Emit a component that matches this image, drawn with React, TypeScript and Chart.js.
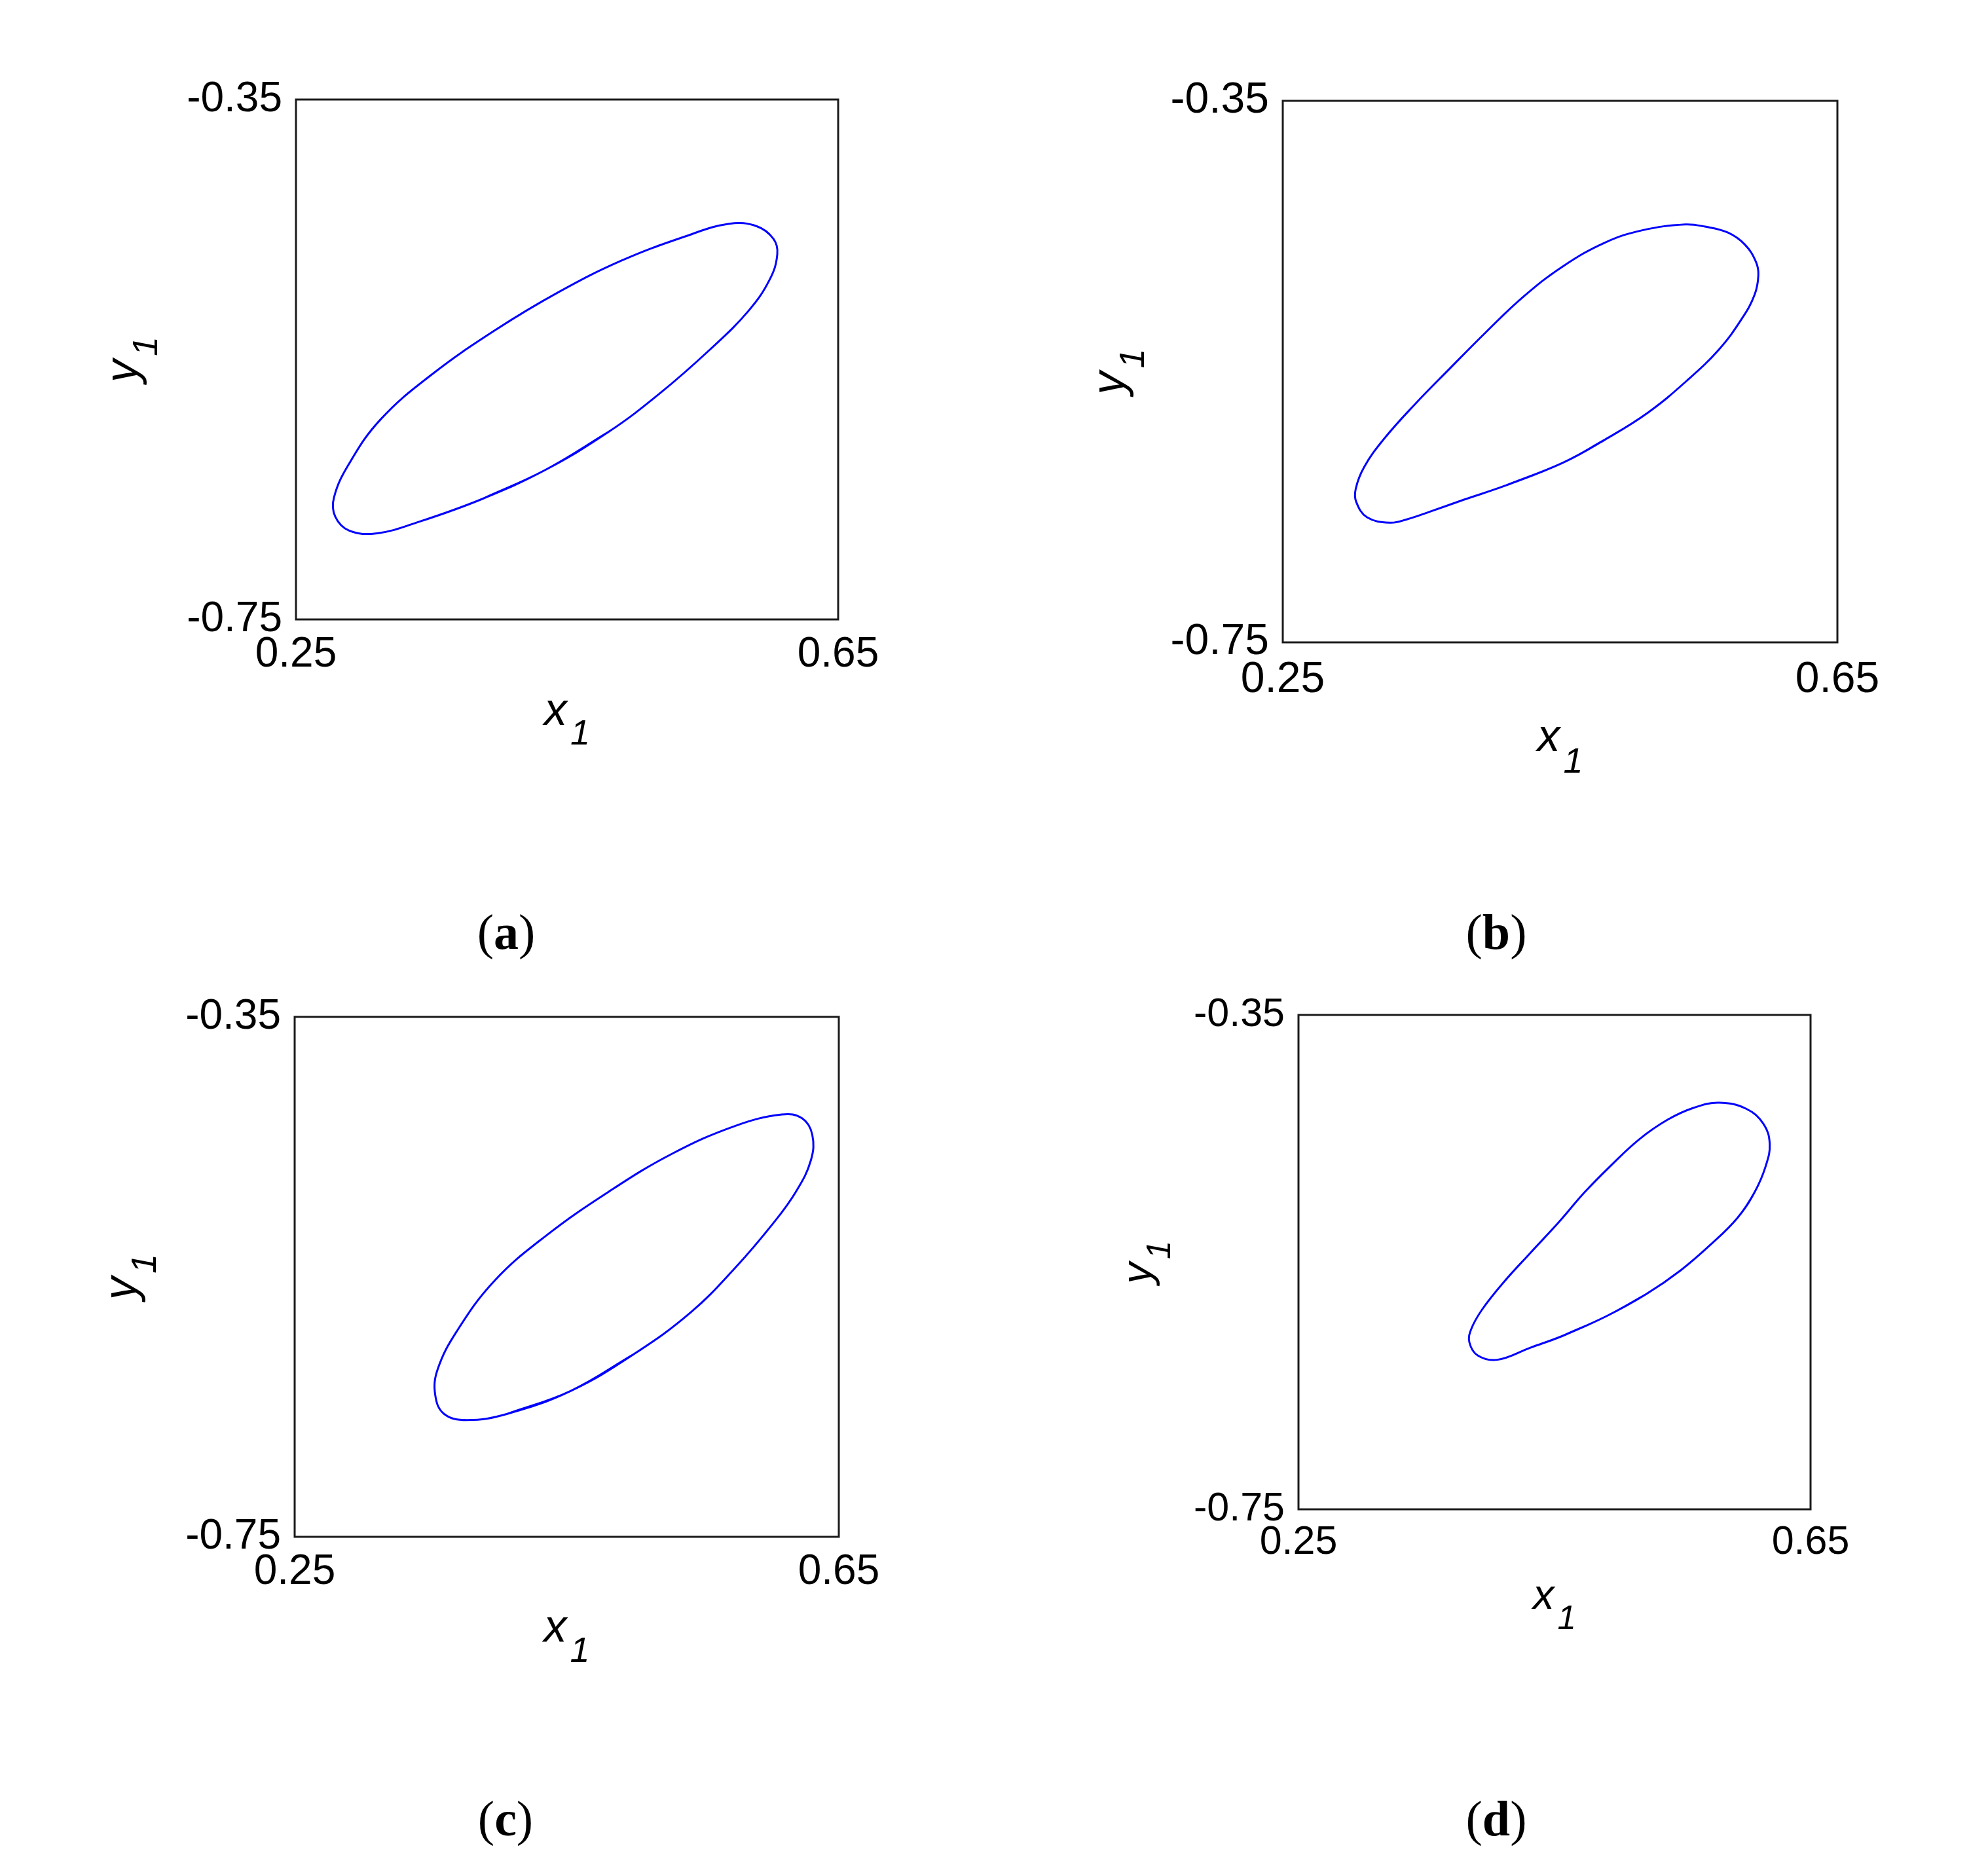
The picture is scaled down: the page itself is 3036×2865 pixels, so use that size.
import React, { useEffect, useRef } from 'react';
import { Chart, registerables } from 'chart.js';

Chart.register(...registerables);

// ---- axis ticks / labels ----
const X_TICKS = [0.25, 0.65];
const Y_TICKS = [-0.75, -0.35];
const X_TICK_LABELS = ['0.25', '0.65'];
const Y_TICK_LABELS = ['-0.75', '-0.35'];
const X_LABEL = ['x', '1'];
const Y_LABEL = ['y', '1'];
const CAPTIONS = ['a', 'b', 'c', 'd'];

// ---- panel (a) closed orbit (last point repeats the first) ----
const A_X = [0.4341, 0.3874, 0.3407, 0.3098, 0.2893, 0.2790, 0.2780, 0.2893, 0.3126, 0.3500, 0.3967, 0.4435, 0.4902, 0.5369, 0.5696, 0.5902, 0.6023, 0.6051, 0.5995, 0.5836, 0.5556, 0.5182, 0.4808, 0.4341];
const A_Y = [-0.6349, -0.6573, -0.6749, -0.6837, -0.6817, -0.6710, -0.6563, -0.6300, -0.5959, -0.5617, -0.5276, -0.4983, -0.4739, -0.4554, -0.4456, -0.4476, -0.4573, -0.4690, -0.4885, -0.5129, -0.5422, -0.5763, -0.6056, -0.6349];

// ---- panel (b) closed orbit ----
const B_X = [0.4521, 0.4111, 0.3804, 0.3558, 0.3394, 0.3272, 0.3108, 0.3030, 0.3026, 0.3087, 0.3231, 0.3456, 0.3702, 0.3968, 0.4234, 0.4521, 0.4828, 0.5094, 0.5402, 0.5545, 0.5708, 0.5832, 0.5913, 0.5930, 0.5903, 0.5811, 0.5647, 0.5422, 0.5135, 0.4828, 0.4521];
const B_Y = [-0.6173, -0.6340, -0.6447, -0.6536, -0.6592, -0.6616, -0.6576, -0.6463, -0.6367, -0.6205, -0.5996, -0.5738, -0.5480, -0.5206, -0.4948, -0.4722, -0.4545, -0.4456, -0.4413, -0.4429, -0.4472, -0.4561, -0.4690, -0.4787, -0.4932, -0.5109, -0.5335, -0.5560, -0.5802, -0.6000, -0.6173];

// ---- panel (c) closed orbit ----
const C_X = [0.4528, 0.4063, 0.3765, 0.3598, 0.3533, 0.3551, 0.3691, 0.3970, 0.4342, 0.4807, 0.5272, 0.5737, 0.6081, 0.6230, 0.6305, 0.6295, 0.6184, 0.6016, 0.5737, 0.5412, 0.4993, 0.4528];
const C_Y = [-0.6378, -0.6554, -0.6602, -0.6554, -0.6407, -0.6212, -0.5920, -0.5529, -0.5188, -0.4846, -0.4554, -0.4339, -0.4251, -0.4280, -0.4407, -0.4602, -0.4846, -0.5090, -0.5432, -0.5773, -0.6095, -0.6378];

// ---- panel (d) closed orbit ----
const D_X = [0.4906, 0.4565, 0.4309, 0.4053, 0.3900, 0.3835, 0.3849, 0.3934, 0.4105, 0.4309, 0.4531, 0.4735, 0.4940, 0.5161, 0.5383, 0.5588, 0.5784, 0.5997, 0.6133, 0.6181, 0.6151, 0.6065, 0.5929, 0.5724, 0.5486, 0.5213, 0.4906];
const D_Y = [-0.5937, -0.6096, -0.6193, -0.6290, -0.6255, -0.6149, -0.6043, -0.5884, -0.5660, -0.5428, -0.5180, -0.4935, -0.4719, -0.4507, -0.4348, -0.4251, -0.4210, -0.4259, -0.4383, -0.4542, -0.4719, -0.4930, -0.5142, -0.5354, -0.5566, -0.5761, -0.5937];

const SERIES_X = [A_X, B_X, C_X, D_X];
const SERIES_Y = [A_Y, B_Y, C_Y, D_Y];

// ---- layout (pixels on the page) ----
const LAYOUT = [
  { left: 452, right: 1280, top: 152, bottom: 946, tickFont: 64, xPad: 16, yPad: 21, labFont: 70, subFont: 54, xBase: 161, xSub: 191, yBase: 243, ySub: 212, capX: 773, capY: 1449 },
  { left: 1959, right: 2806, top: 154, bottom: 981, tickFont: 66, xPad: 18, yPad: 21, labFont: 70, subFont: 54, xBase: 166, xSub: 199, yBase: 243, ySub: 212, capX: 2285, capY: 1449 },
  { left: 450, right: 1281, top: 1553, bottom: 2347, tickFont: 64, xPad: 16, yPad: 21, labFont: 70, subFont: 54, xBase: 160, xSub: 191, yBase: 243, ySub: 212, capX: 772, capY: 2803 },
  { left: 1983, right: 2765, top: 1550, bottom: 2305, tickFont: 61, xPad: 15, yPad: 21, labFont: 65, subFont: 51, xBase: 152, xSub: 183, yBase: 225, ySub: 196, capX: 2285, capY: 2803 },
];

const PAD_L = 320;
const PAD_T = 70;
const PAD_R = 90;
const PAD_B = 240;
const SANS = '"Liberation Sans", Arial, sans-serif';

function Panel({ idx }: { idx: number }) {
  const ref = useRef<HTMLCanvasElement>(null);
  const lay = LAYOUT[idx];
  const w = lay.right - lay.left + PAD_L + PAD_R;
  const h = lay.bottom - lay.top + PAD_T + PAD_B;

  useEffect(() => {
    const xs = SERIES_X[idx];
    const ys = SERIES_Y[idx];
    const n = xs.length;
    // wrap one point on each side so the closed loop has no corner at the seam
    const order = [n - 2];
    for (let i = 0; i < n; i++) order.push(i);
    order.push(1);
    const data = order.map((i) => ({ x: xs[i], y: ys[i] }));

    const framePlugin = {
      id: 'frameAndLabels',
      afterDatasetsDraw(chart: any) {
        const { ctx, chartArea: a } = chart;
        ctx.save();
        ctx.strokeStyle = '#1a1a1a';
        ctx.lineWidth = 3;
        ctx.strokeRect(a.left, a.top, a.right - a.left, a.bottom - a.top);

        ctx.fillStyle = '#000';
        ctx.textBaseline = 'alphabetic';
        ctx.textAlign = 'left';
        const gap = 5;

        // x axis title: x with subscript 1
        ctx.font = `italic ${lay.labFont}px ${SANS}`;
        const wx = ctx.measureText(X_LABEL[0]).width;
        ctx.font = `italic ${lay.subFont}px ${SANS}`;
        const wsx = ctx.measureText(X_LABEL[1]).width;
        const totX = wx + gap + wsx;
        const cx = (a.left + a.right) / 2;
        ctx.font = `italic ${lay.labFont}px ${SANS}`;
        ctx.fillText(X_LABEL[0], cx - totX / 2, a.bottom + lay.xBase);
        ctx.font = `italic ${lay.subFont}px ${SANS}`;
        ctx.fillText(X_LABEL[1], cx - totX / 2 + wx + gap, a.bottom + lay.xSub);

        // y axis title: y with subscript 1, rotated
        ctx.font = `italic ${lay.labFont}px ${SANS}`;
        const wy = ctx.measureText(Y_LABEL[0]).width;
        ctx.font = `italic ${lay.subFont}px ${SANS}`;
        const wsy = ctx.measureText(Y_LABEL[1]).width;
        const totY = wy + gap + wsy;
        const cy = (a.top + a.bottom) / 2;
        ctx.translate(a.left - lay.yBase, cy);
        ctx.rotate(-Math.PI / 2);
        ctx.font = `italic ${lay.labFont}px ${SANS}`;
        ctx.fillText(Y_LABEL[0], -totY / 2, 0);
        ctx.font = `italic ${lay.subFont}px ${SANS}`;
        ctx.fillText(Y_LABEL[1], -totY / 2 + wy + gap, lay.yBase - lay.ySub);
        ctx.restore();
      },
    };

    const chart = new Chart(ref.current as HTMLCanvasElement, {
      type: 'scatter',
      data: {
        datasets: [
          {
            data,
            showLine: true,
            borderColor: '#0000ff',
            borderWidth: 3,
            pointRadius: 0,
            pointHoverRadius: 0,
            tension: 0.4,
            fill: false,
          },
        ],
      },
      options: {
        animation: false,
        responsive: false,
        devicePixelRatio: 1,
        events: [],
        layout: { padding: { left: 0, top: PAD_T, right: PAD_R, bottom: 0 } },
        plugins: { legend: { display: false }, tooltip: { enabled: false } },
        scales: {
          x: {
            type: 'linear',
            min: X_TICKS[0],
            max: X_TICKS[X_TICKS.length - 1],
            grid: { display: false, drawTicks: false },
            border: { display: false },
            afterBuildTicks: (s: any) => {
              s.ticks = X_TICKS.map((v) => ({ value: v }));
            },
            afterFit: (s: any) => {
              s.height = PAD_B;
            },
            ticks: {
              autoSkip: false,
              maxRotation: 0,
              minRotation: 0,
              padding: lay.xPad,
              color: '#000',
              font: { family: SANS, size: lay.tickFont },
              callback: (v: any) => {
                const i = X_TICKS.indexOf(Number(v));
                return i >= 0 ? X_TICK_LABELS[i] : '';
              },
            },
          },
          y: {
            type: 'linear',
            min: Y_TICKS[0],
            max: Y_TICKS[Y_TICKS.length - 1],
            grid: { display: false, drawTicks: false },
            border: { display: false },
            afterBuildTicks: (s: any) => {
              s.ticks = Y_TICKS.map((v) => ({ value: v }));
            },
            afterFit: (s: any) => {
              s.width = PAD_L;
            },
            ticks: {
              autoSkip: false,
              padding: lay.yPad,
              color: '#000',
              font: { family: SANS, size: lay.tickFont },
              callback: (v: any) => {
                const i = Y_TICKS.indexOf(Number(v));
                return i >= 0 ? Y_TICK_LABELS[i] : '';
              },
            },
          },
        },
      },
      plugins: [framePlugin],
    } as any);
    return () => chart.destroy();
  }, [idx]);

  return (
    <>
      <canvas
        ref={ref}
        width={w}
        height={h}
        style={{ position: 'absolute', left: lay.left - PAD_L, top: lay.top - PAD_T, width: w, height: h }}
      />
      <div
        style={{
          position: 'absolute',
          left: lay.capX - 150,
          width: 300,
          top: lay.capY - 64,
          textAlign: 'center',
          fontFamily: '"Liberation Serif", "Times New Roman", serif',
          fontSize: 76,
          lineHeight: '76px',
          color: '#000',
        }}
      >
        (<b>{CAPTIONS[idx]}</b>)
      </div>
    </>
  );
}

export default function App() {
  return (
    <div style={{ position: 'absolute', left: 0, top: 0, width: 3036, height: 2865, background: '#fff', overflow: 'hidden' }}>
      {LAYOUT.map((_, i) => (
        <Panel key={i} idx={i} />
      ))}
    </div>
  );
}
